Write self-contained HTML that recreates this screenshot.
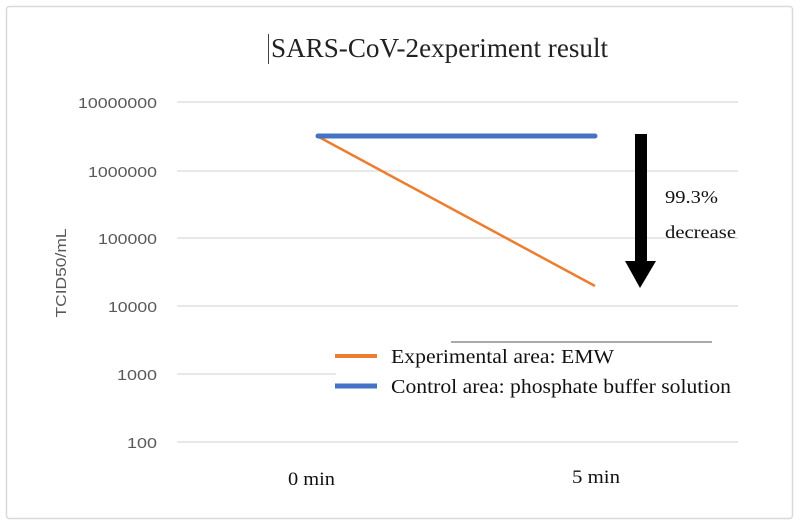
<!DOCTYPE html>
<html><head><style>
body{margin:0;background:#fff;}
svg{display:block;}
</style></head><body>
<svg width="800" height="526" xmlns="http://www.w3.org/2000/svg">
<rect x="6.5" y="6.5" width="786" height="512" rx="3" fill="#fff" stroke="#d9d9d9" stroke-width="1.5"/>
<text x="271" y="57" font-family="Liberation Serif" font-size="27" fill="#222" textLength="337" lengthAdjust="spacingAndGlyphs">SARS-CoV-2experiment result</text>
<line x1="268.5" y1="34" x2="268.5" y2="64" stroke="#444" stroke-width="1"/>
<g stroke="#d9d9d9" stroke-width="1.2">
<line x1="177" y1="102" x2="738" y2="102"/>
<line x1="177" y1="171" x2="738" y2="171"/>
<line x1="177" y1="238" x2="738" y2="238"/>
<line x1="177" y1="306" x2="738" y2="306"/>
<line x1="177" y1="374" x2="336" y2="374"/>
<line x1="177" y1="442" x2="738" y2="442"/>
</g>
<g font-family="Liberation Sans" font-size="15" fill="#595959" text-anchor="end" lengthAdjust="spacingAndGlyphs">
<text x="157" y="108" textLength="79" lengthAdjust="spacingAndGlyphs">10000000</text>
<text x="157" y="177" textLength="69" lengthAdjust="spacingAndGlyphs">1000000</text>
<text x="157" y="244" textLength="59" lengthAdjust="spacingAndGlyphs">100000</text>
<text x="157" y="312" textLength="49" lengthAdjust="spacingAndGlyphs">10000</text>
<text x="157" y="380" textLength="40" lengthAdjust="spacingAndGlyphs">1000</text>
<text x="157" y="448" textLength="30" lengthAdjust="spacingAndGlyphs">100</text>
</g>
<text transform="translate(66,273) rotate(-90)" font-family="Liberation Sans" font-size="15" fill="#595959" text-anchor="middle" textLength="89" lengthAdjust="spacingAndGlyphs">TCID50/mL</text>
<line x1="317" y1="136" x2="595" y2="286" stroke="#ed7d31" stroke-width="2.5"/>
<line x1="318" y1="136" x2="595" y2="136" stroke="#4472c4" stroke-width="5" stroke-linecap="round"/>
<rect x="635" y="134" width="12" height="128" fill="#000"/>
<polygon points="625,261 656,261 640,288" fill="#000"/>
<g font-family="Liberation Serif" font-size="18" fill="#111">
<text x="665" y="203" textLength="53" lengthAdjust="spacingAndGlyphs">99.3%</text>
<text x="665" y="238" textLength="71" lengthAdjust="spacingAndGlyphs">decrease</text>
</g>
<line x1="451" y1="342" x2="712" y2="342" stroke="#555" stroke-width="1"/>
<line x1="335" y1="356" x2="377" y2="356" stroke="#ed7d31" stroke-width="4"/>
<line x1="335" y1="386" x2="377" y2="386" stroke="#4472c4" stroke-width="5"/>
<g font-family="Liberation Serif" font-size="20" fill="#111">
<text x="391" y="363" textLength="223" lengthAdjust="spacingAndGlyphs">Experimental area: EMW</text>
<text x="391" y="393" textLength="340" lengthAdjust="spacingAndGlyphs">Control area: phosphate buffer solution</text>
</g>
<g font-family="Liberation Serif" font-size="19" fill="#111">
<text x="288" y="485" textLength="47" lengthAdjust="spacingAndGlyphs">0 min</text>
<text x="572" y="483" textLength="48" lengthAdjust="spacingAndGlyphs">5 min</text>
</g>
</svg>
</body></html>
